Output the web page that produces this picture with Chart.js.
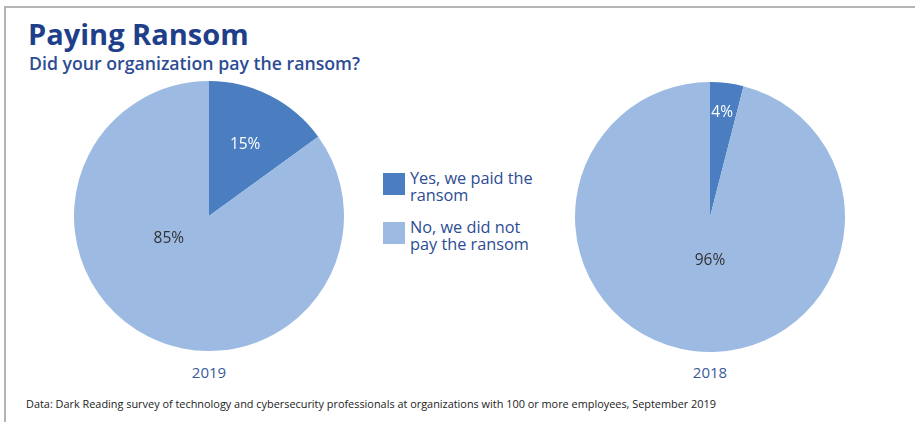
<!DOCTYPE html>
<html>
<head>
<meta charset="utf-8">
<script src="https://cdn.jsdelivr.net/npm/chart.js@4"></script>
<style>
  body { margin: 0; background: #fff; font-family: "Open Sans", sans-serif; }
  #frame { position: absolute; left: 4px; top: 6px; width: 915px; height: 420px;
           border-top: 2px solid #b4b4b4; border-left: 2px solid #b4b4b4; }
  .txt { position: absolute; white-space: nowrap; }
  #title { left: 28px; top: 14px; font-size: 29px; font-weight: 700; color: #1f3f8b; }
  #subtitle { left: 29px; top: 51px; font-size: 17.7px; font-weight: 600; color: #2d4c93; }
  .pie { position: absolute; width: 270px; height: 270px; }
  #pie1 { left: 74px; top: 81px; }
  #pie2 { left: 575px; top: 82px; }
  .year { font-size: 15px; color: #3a5a9c; width: 100px; text-align: center; top: 362px; }
  #legend { position: absolute; left: 383px; top: 170px; }
  .item { display: flex; align-items: flex-start; margin-bottom: 15px; }
  .box { width: 22px; height: 22px; margin-top: 3px; margin-right: 5px; }
  .lab { font-size: 16.3px; line-height: 17px; color: #2d4c93; }
  #note { left: 26px; top: 396px; font-size: 10.9px; color: #222; }
</style>
</head>
<body>
<div id="frame"></div>
<div class="txt" id="title">Paying Ransom</div>
<div class="txt" id="subtitle">Did your organization pay the ransom?</div>
<div class="pie" id="pie1"><canvas id="c2019"></canvas></div>
<div class="pie" id="pie2"><canvas id="c2018"></canvas></div>
<div class="txt year" id="y1" style="left:159px"></div>
<div class="txt year" id="y2" style="left:660px"></div>
<div id="legend"></div>
<div class="txt" id="note">Data: Dark Reading survey of technology and cybersecurity professionals at organizations with 100 or more employees, September 2019</div>
<script>
const years = ['2019', '2018'];
const answers = ['Yes, we paid the\nransom', 'No, we did not\npay the ransom'];
const share2019 = [15, 85];
const share2018 = [4, 96];

const sliceColors = ['rgb(74, 126, 193)', 'rgb(157, 187, 226)'];
const labelColors = ['#ffffff', '#333333'];

// label placement: fraction of radius, and turn (deg) from slice middle
const place2019 = [[0.59, 0], [0.34, 34]];
const place2018 = [[0.78, -0.6], [0.32, -7.2]];

const pieLabels = {
  id: 'pieLabels',
  afterDatasetsDraw(chart, args, opts) {
    const ctx = chart.ctx;
    const meta = chart.getDatasetMeta(0);
    const data = chart.data.datasets[0].data;
    ctx.save();
    ctx.font = '15.5px "Open Sans"';
    ctx.textAlign = 'center';
    ctx.textBaseline = 'middle';
    meta.data.forEach((arc, i) => {
      const p = opts.place[i];
      const a = (arc.startAngle + arc.endAngle) / 2 + p[1] * Math.PI / 180;
      const r = arc.outerRadius * p[0];
      ctx.fillStyle = labelColors[i];
      ctx.fillText(data[i] + '%', arc.x + Math.cos(a) * r, arc.y + Math.sin(a) * r);
    });
    ctx.restore();
  }
};

function makePie(id, values, place) {
  new Chart(document.getElementById(id), {
    type: 'pie',
    data: {
      labels: answers,
      datasets: [{
        data: values,
        backgroundColor: sliceColors,
        borderWidth: 0
      }]
    },
    options: {
      responsive: true,
      maintainAspectRatio: false,
      animation: false,
      layout: { padding: 0 },
      plugins: {
        legend: { display: false },
        tooltip: { enabled: false },
        pieLabels: { place: place }
      }
    },
    plugins: [pieLabels]
  });
}

makePie('c2019', share2019, place2019);
makePie('c2018', share2018, place2018);

document.getElementById('y1').textContent = years[0];
document.getElementById('y2').textContent = years[1];

const legend = document.getElementById('legend');
answers.forEach((a, i) => {
  const row = document.createElement('div');
  row.className = 'item';
  row.innerHTML = '<div class="box" style="background:' + sliceColors[i] + '"></div>' +
    '<div class="lab">' + a.replace('\n', '<br>') + '</div>';
  legend.appendChild(row);
});
</script>
</body>
</html>
